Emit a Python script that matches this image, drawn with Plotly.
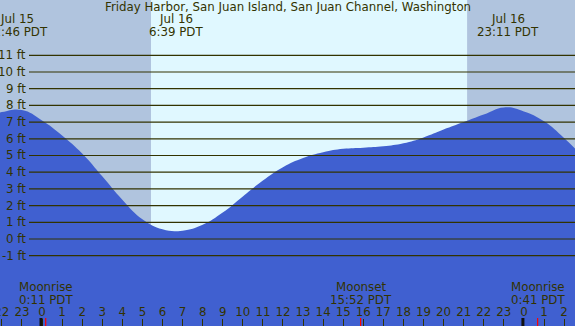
import plotly.graph_objects as go

# ---- data ----
# hours relative to midnight Jul 16 (PDT); heights in feet
tide_hours = [-3, -2, -1, 0, 1, 2, 3, 4, 5, 6, 7, 8, 9, 10, 11, 12, 13, 14,
              15, 16, 17, 18, 19, 20, 21, 22, 23, 24, 25, 26, 27]
tide_feet = [7.3, 7.6, 7.72, 7.1, 6.2, 5.12, 3.75, 2.35, 1.18, 0.58, 0.5, 0.85, 1.58,
             2.55, 3.5, 4.3, 4.85, 5.2, 5.4, 5.47, 5.55, 5.73, 6.08, 6.55, 7.0, 7.45,
             7.88, 7.64, 7.05, 6.05, 4.85]

event_hours = [-1.233, 6.65, 23.183]
event_dates = ["Jul 15", "Jul 16", "Jul 16"]
event_times = ["22:46 PDT", "6:39 PDT", "23:11 PDT"]

moon_hours = [0.183, 15.867, 24.683]
moon_names = ["Moonrise", "Moonset", "Moonrise"]
moon_times = ["0:11 PDT", "15:52 PDT", "0:41 PDT"]

sunrise_hour = 5.43
sunset_hour = 21.17

tick_hours = list(range(-2, 27))
tick_labels = [str(h % 24) for h in tick_hours]
midnight_hours = [0, 24]

grid_feet = list(range(-1, 12))
grid_labels = [f"{v} ft" for v in grid_feet]

title = "Friday Harbor, San Juan Island, San Juan Channel, Washington"

# ---- style ----
W, H = 575, 326
X_RANGE = [-2.092, 26.544]
Y_RANGE = [-5.21, 14.31]
NIGHT = "#b0c4de"
DAY = "#e0f8ff"
FILL = "#4060d0"
INK = "#333300"
FONT = "DejaVu Sans"
FS = 11.8


def py(px_from_top):
    return 1 - px_from_top / H


fig = go.Figure()
fig.add_trace(go.Scatter(x=tide_hours, y=[Y_RANGE[0] - 1] * len(tide_hours),
                         mode="lines", line=dict(width=0), hoverinfo="skip",
                         showlegend=False))
fig.add_trace(go.Scatter(x=tide_hours, y=tide_feet, mode="lines",
                         line=dict(shape="spline", smoothing=1.3, width=0, color=FILL),
                         fill="tonexty", fillcolor=FILL, showlegend=False))

shapes = []
shapes.append(dict(type="rect", xref="x", yref="paper", x0=X_RANGE[0] - 1, x1=sunrise_hour,
                   y0=0, y1=1, fillcolor=NIGHT, line=dict(width=0), layer="below"))
shapes.append(dict(type="rect", xref="x", yref="paper", x0=sunrise_hour, x1=sunset_hour,
                   y0=0, y1=1, fillcolor=DAY, line=dict(width=0), layer="below"))
shapes.append(dict(type="rect", xref="x", yref="paper", x0=sunset_hour, x1=X_RANGE[1] + 1,
                   y0=0, y1=1, fillcolor=NIGHT, line=dict(width=0), layer="below"))
for v in grid_feet:
    shapes.append(dict(type="line", xref="paper", yref="y", x0=29 / W, x1=1, y0=v, y1=v,
                       line=dict(color=INK, width=1.2), layer="above"))
for h in midnight_hours:
    shapes.append(dict(type="line", xref="x", yref="paper", x0=h - 0.05, x1=h - 0.05,
                       y0=0, y1=8 / H, line=dict(color="#111111", width=3), layer="above"))
for h in moon_hours:
    shapes.append(dict(type="line", xref="x", yref="paper", x0=h, x1=h,
                       y0=0, y1=8 / H, line=dict(color="#ff0000", width=1.2), layer="above"))

font = dict(family=FONT, size=FS, color=INK)
annotations = [dict(text=title, xref="paper", yref="paper", x=0.5, y=py(7.5),
                    showarrow=False, xanchor="center", yanchor="middle", font=font)]
for h, d, t in zip(event_hours, event_dates, event_times):
    annotations.append(dict(text=d, xref="x", yref="paper", x=h, y=py(19.5),
                            showarrow=False, xanchor="center", yanchor="middle", font=font))
    annotations.append(dict(text=t, xref="x", yref="paper", x=h, y=py(32),
                            showarrow=False, xanchor="center", yanchor="middle", font=font))
for h, n, t in zip(moon_hours, moon_names, moon_times):
    annotations.append(dict(text=n, xref="x", yref="paper", x=h, y=py(287),
                            showarrow=False, xanchor="center", yanchor="middle", font=font))
    annotations.append(dict(text=t, xref="x", yref="paper", x=h, y=py(299.5),
                            showarrow=False, xanchor="center", yanchor="middle", font=font))
for v, lab in zip(grid_feet, grid_labels):
    annotations.append(dict(text=lab, xref="paper", yref="y", x=27.7 / W, y=v,
                            showarrow=False, xanchor="right", yanchor="middle", font=font))

fig.update_layout(
    width=W, height=H,
    margin=dict(l=0, r=0, t=0, b=0, pad=0, autoexpand=False),
    paper_bgcolor=FILL, plot_bgcolor=DAY,
    shapes=shapes, annotations=annotations,
    xaxis=dict(range=X_RANGE, showgrid=False, zeroline=False, showline=False,
               automargin=False,
               ticks="inside", ticklen=7, tickwidth=1, tickcolor=INK,
               ticklabelposition="inside", ticklabeloverflow="allow",
               tickvals=tick_hours, ticktext=tick_labels,
               tickfont=font, fixedrange=True),
    yaxis=dict(range=Y_RANGE, visible=False, fixedrange=True, automargin=False),
    showlegend=False,
)

fig.write_html("out.html", config={"displayModeBar": False},
               post_script="document.body.style.margin='0';document.body.style.overflow='hidden';")
